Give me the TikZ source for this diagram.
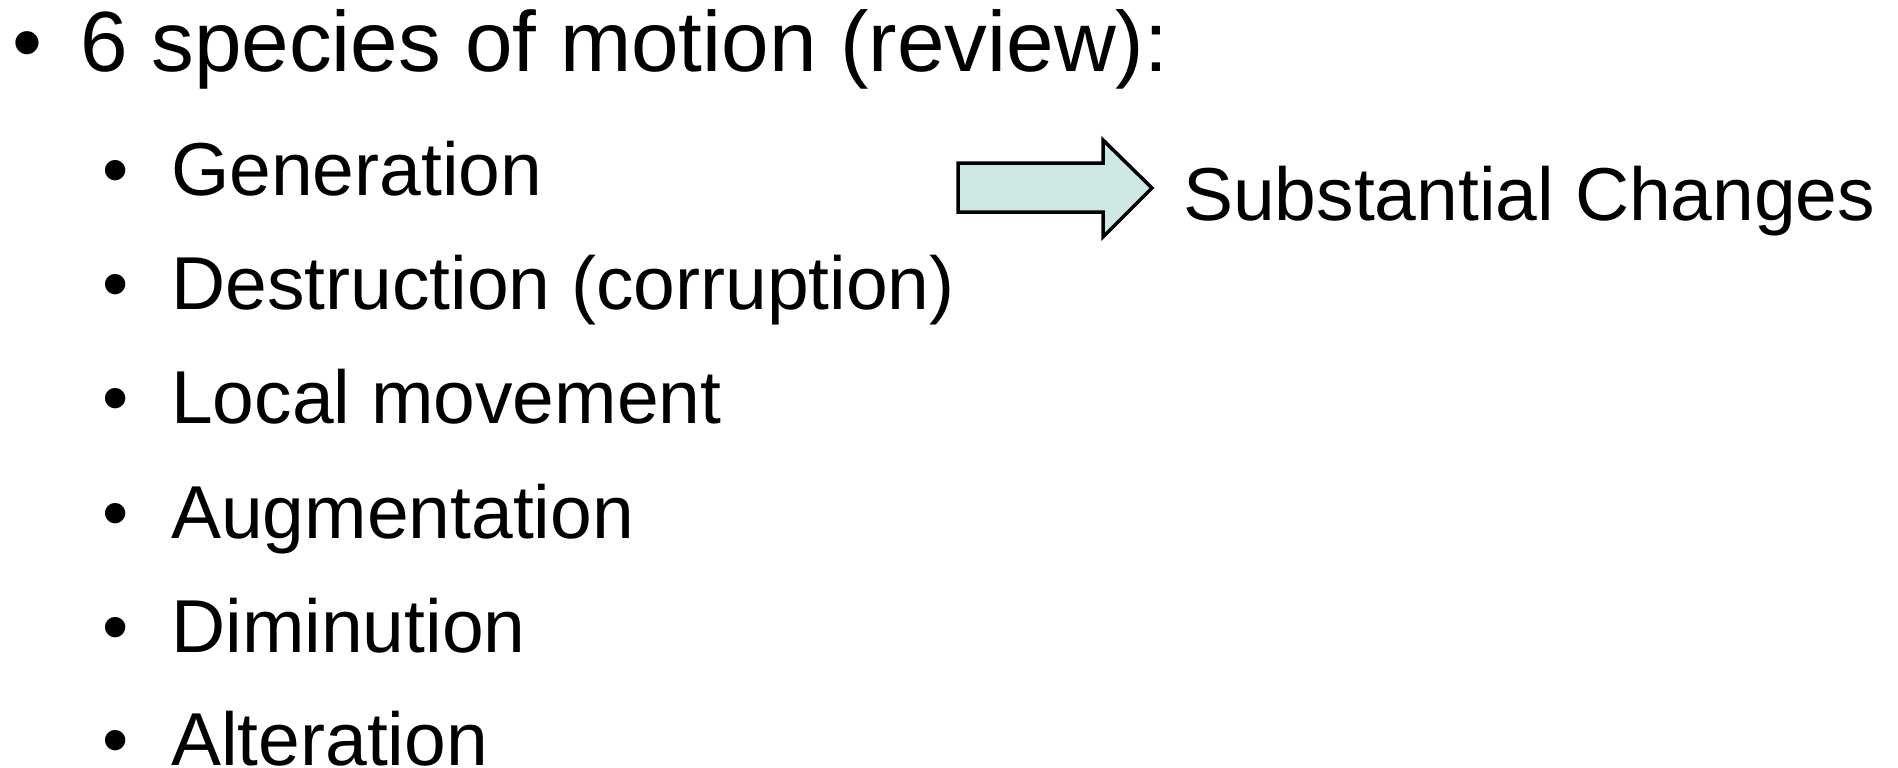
\documentclass[tikz,border=0pt]{standalone}
\usepackage{fontspec}
\setmainfont{Liberation Sans}
\definecolor{arrowfill}{HTML}{CFE7E4}
\begin{document}
\begin{tikzpicture}[x=1pt, y=-1pt, inner sep=0pt,
    top/.style={anchor=base west, font=\fontsize{85.5}{100}\selectfont},
    item/.style={anchor=base west, font=\fontsize{75}{88}\selectfont},
    topdot/.style={anchor=base, font=\fontsize{85.5}{100}\selectfont},
    itemdot/.style={anchor=base, font=\fontsize{75}{88}\selectfont}]
   \useasboundingbox (0,0) rectangle (1898,768);
   \node[topdot] (b0) at (27.5,72) {•};
   \node[top] (t0) at (80,72) {6 species of motion (review):};
   \node[itemdot] (b1) at (116,195) {•};
   \node[itemdot] (b2) at (116,309) {•};
   \node[itemdot] (b3) at (116,423) {•};
   \node[itemdot] (b4) at (116,538) {•};
   \node[itemdot] (b5) at (116,652) {•};
   \node[itemdot] (b6) at (116,765) {•};
   \node[item] (t1) at (171,195) {Generation};
   \node[item] (t2) at (171,309) {Destruction (corruption)};
   \node[item] (t3) at (171,423) {Local movement};
   \node[item] (t4) at (171,538) {Augmentation};
   \node[item] (t5) at (171,652) {Diminution};
   \node[item] (t6) at (171,765) {Alteration};
   % block arrow
   \draw[line width=3.5pt, fill=arrowfill] (958,163) -- (1103,163) -- (1103,140)
      -- (1152,188) -- (1103,237) -- (1103,212) -- (958,212) -- cycle;
   \node[item] (sub) at (1183,220) {Substantial Changes};
\end{tikzpicture}
\end{document}
